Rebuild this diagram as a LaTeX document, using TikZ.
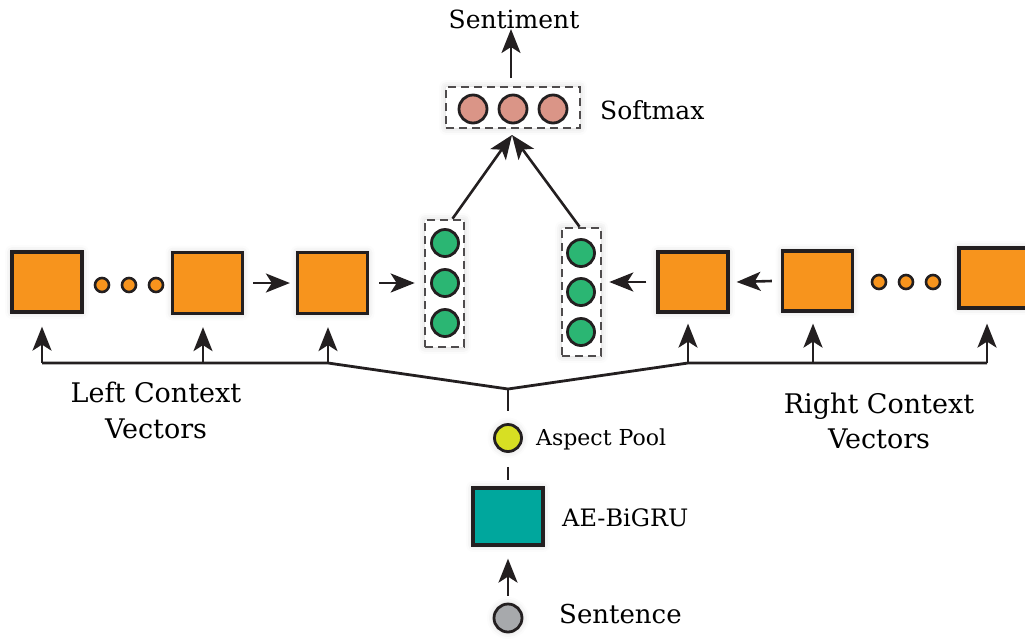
\documentclass[tikz,border=0pt]{standalone}
\usepackage{fontspec}
\setmainfont{DejaVu Serif}
\usetikzlibrary{arrows.meta,positioning,shadows.blur}

\definecolor{orng}{HTML}{F7941D}
\definecolor{grn}{HTML}{2BB673}
\definecolor{pnk}{HTML}{DA9587}
\definecolor{ylw}{HTML}{D7DF23}
\definecolor{tealc}{HTML}{00A79D}
\definecolor{gry}{HTML}{A7A9AC}
\definecolor{ink}{HTML}{231F20}

\begin{document}
\begin{tikzpicture}[x=1pt,y=-1pt,
  glow/.style={blur shadow={shadow xshift=0pt,shadow yshift=0pt,shadow blur radius=7pt,shadow opacity=18}},
  box/.style={draw=ink,line width=3.2pt,minimum width=70pt,minimum height=60pt,inner sep=0pt,glow},
  obox/.style={box,fill=orng},
  dotc/.style={circle,draw=ink,line width=2.6pt,fill=orng,minimum size=14pt,inner sep=0pt},
  gc/.style={circle,draw=ink,line width=2.8pt,fill=grn,minimum size=27pt,inner sep=0pt},
  pc/.style={circle,draw=ink,line width=2.8pt,fill=pnk,minimum size=28pt,inner sep=0pt},
  dbox/.style={draw=ink!80,dash pattern=on 8pt off 5pt,line width=2.6pt,inner sep=0pt,fill=white,glow},
  arr/.style={line width=2.6pt,draw=ink,arrows={-{Stealth[length=24pt,width=19pt,inset=6pt]}}},
  ln/.style={line width=2.8pt,draw=ink},
  lbl/.style={font=\fontsize{25}{30}\selectfont,inner sep=0pt},
  lbl2/.style={font=\fontsize{27}{36}\selectfont,align=center,inner sep=0pt}
]
\useasboundingbox (0,0) rectangle (1025,641);

% left chain
\node[obox] (L1) at (47,282) {};
\node[dotc] (ld1) at (102,285) {};
\node[dotc] (ld2) at (129,285) {};
\node[dotc] (ld3) at (156,285) {};
\node[obox,minimum height=61pt] (L2) at (207.5,283) {};
\node[obox,minimum height=61pt] (L3) at (332.5,283) {};

% right chain
\node[obox] (R3) at (693,282) {};
\node[obox] (R2) at (817.5,281) {};
\node[dotc] (rd1) at (879,282) {};
\node[dotc] (rd2) at (906,282) {};
\node[dotc] (rd3) at (933,282) {};
\node[obox] (R1) at (994,278) {};

% green columns
\node[dbox,minimum width=39pt,minimum height=127pt] (GL) at (444.5,283.5) {};
\node[gc] (gl1) at (445,243) {};
\node[gc] (gl2) at (445,283) {};
\node[gc] (gl3) at (445,323) {};
\node[dbox,minimum width=39pt,minimum height=128pt] (GR) at (581.5,292) {};
\node[gc] (gr1) at (581,253) {};
\node[gc] (gr2) at (581,292) {};
\node[gc] (gr3) at (581,332) {};

% softmax
\node[dbox,minimum width=134pt,minimum height=41pt] (S) at (513,107.5) {};
\node[pc] (s1) at (473,109) {};
\node[pc] (s2) at (513,109) {};
\node[pc] (s3) at (553,109) {};
\node[lbl,anchor=west] (smx) at (600,110) {Softmax};
\node[lbl,anchor=south] (sent) at (514,29) {Sentiment};

% bottom
\node[circle,draw=ink,line width=2.8pt,fill=ylw,minimum size=27pt,inner sep=0pt,glow] (ap) at (508,438) {};
\node[lbl,anchor=west,font=\fontsize{22}{26}\selectfont] (apl) at (536,439) {Aspect Pool};
\node[box,fill=tealc,minimum height=57pt] (ae) at (508,516.5) {};
\node[lbl,anchor=west,font=\fontsize{24}{28}\selectfont] (ael) at (562,518) {AE-BiGRU};
\node[circle,draw=ink,line width=2.8pt,fill=gry,minimum size=28pt,inner sep=0pt,glow] (sn) at (508,618) {};
\node[lbl,anchor=west,font=\fontsize{26}{30}\selectfont] (snl) at (559,614) {Sentence};

\node[lbl2] (lcv) at (156,410) {Left Context\\Vectors};
\node[lbl2,font=\fontsize{27}{35}\selectfont] (rcv) at (879,421) {Right Context\\Vectors};

% horizontal arrows
\draw[arr] ([xshift=9pt]L2.east) -- ([xshift=-6pt]L3.west);
\draw[arr] ([xshift=10pt]L3.east) -- ([xshift=-9pt]L3.east -| GL.west);
\draw[arr] ([xshift=-9pt]R2.west) -- ([xshift=7pt]R3.east);
\draw[arr] ([xshift=-10pt]R3.west) -- ([xshift=7pt]R3.west -| GR.east);

% to softmax
\coordinate (stip) at (512,135);
\draw[arr] ([xshift=8pt]GL.north) -- (stip);
\draw[arr] ([xshift=-2pt]GR.north) -- (stip);
\coordinate (sup1) at (511,78);
\draw[arr] (sup1) -- (sup1 |- sent.south);

% context lines
\coordinate (a1) at (42,363);
\coordinate (a2) at (203,363);
\coordinate (a3) at (328,363);
\coordinate (b3) at (688,363);
\coordinate (b2) at (813,363);
\coordinate (b1) at (987,363);
\coordinate (j) at (508,389);
\draw[ln,line join=miter] (a1) -- (a3) -- (j) -- (b3) -- (b1);
\draw[arr] (a1) -- ([yshift=-13pt]L1.south -| a1);
\draw[arr] (a2) -- ([yshift=-12pt]L2.south -| a2);
\draw[arr] (a3) -- ([yshift=-12pt]L3.south -| a3);
\draw[arr] (b3) -- ([yshift=-10pt]R3.south -| b3);
\draw[arr] (b2) -- ([yshift=-11pt]R2.south -| b2);
\draw[arr] (b1) -- ([yshift=-14pt]R1.south -| b1);

\draw[ln] (j) -- ([yshift=12pt]ap.north);
\draw[ln] ([yshift=-14pt]ap.south) -- ([yshift=6pt]ae.north);
\draw[arr] ([yshift=7pt]sn.north) -- ([yshift=-12pt]ae.south);
\end{tikzpicture}
\end{document}
